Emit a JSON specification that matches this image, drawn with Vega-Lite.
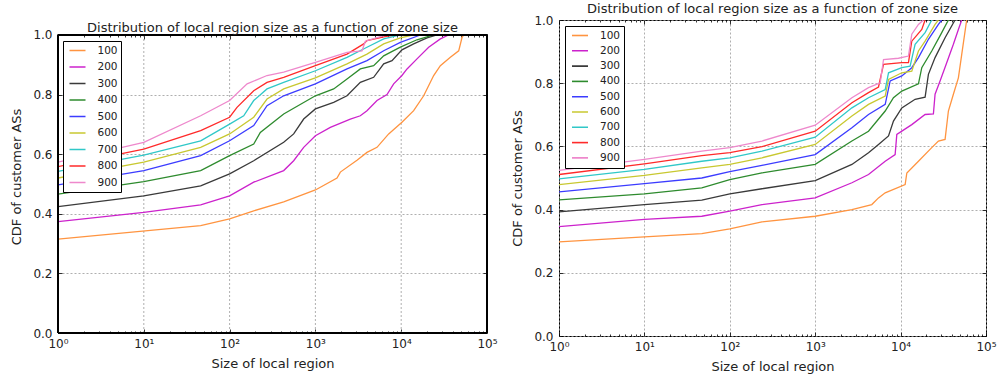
{
  "$schema": "https://vega.github.io/schema/vega-lite/v6.json",
  "padding": {"left": 10, "top": 2, "right": 5, "bottom": 0},
  "spacing": 13,
  "config": {
    "font": "DejaVu Sans",
    "view": {"stroke": "black", "strokeWidth": 1},
    "axis": {"labelFont": "DejaVu Sans", "labelFontSize": 12, "labelColor": "#222", "titleFont": "DejaVu Sans", "titleFontSize": 13, "titleFontWeight": "normal", "titleColor": "#222", "gridColor": "#9a9a9a", "gridDash": [2, 2], "gridOpacity": 1, "gridWidth": 0.8, "tickColor": "black", "tickWidth": 0.8},
    "title": {"font": "DejaVu Sans", "fontSize": 13, "fontWeight": "normal", "color": "#222", "offset": 0},
    "legend": {"labelFont": "DejaVu Sans", "labelFontSize": 10.5, "labelColor": "#222", "strokeColor": "black", "fillColor": "white", "symbolType": "stroke", "symbolStrokeWidth": 1.6, "symbolSize": 256, "labelOffset": 11, "symbolOffset": 3, "cornerRadius": 0}
  },
  "datasets": {
    "L": [
      {"z":"100","x":1,"y":0.315},{"z":"100","x":46,"y":0.36},{"z":"100","x":100,"y":0.383},{"z":"100","x":191,"y":0.41},{"z":"100","x":427,"y":0.44},{"z":"100","x":1000,"y":0.48},{"z":"100","x":1786,"y":0.52},{"z":"100","x":1953,"y":0.54},{"z":"100","x":3053,"y":0.58},{"z":"100","x":3991,"y":0.606},{"z":"100","x":5224,"y":0.623},{"z":"100","x":7145,"y":0.668},{"z":"100","x":10200,"y":0.707},{"z":"100","x":13970,"y":0.746},{"z":"100","x":18280,"y":0.796},{"z":"100","x":23900,"y":0.864},{"z":"100","x":28600,"y":0.897},{"z":"100","x":37400,"y":0.925},{"z":"100","x":46800,"y":0.947},{"z":"100","x":51200,"y":0.992},{"z":"100","x":53500,"y":1.0},
      {"z":"200","x":1,"y":0.374},{"z":"200","x":10,"y":0.405},{"z":"200","x":46,"y":0.43},{"z":"200","x":100,"y":0.46},{"z":"200","x":191,"y":0.506},{"z":"200","x":427,"y":0.545},{"z":"200","x":558,"y":0.578},{"z":"200","x":730,"y":0.623},{"z":"200","x":1000,"y":0.662},{"z":"200","x":1493,"y":0.69},{"z":"200","x":2553,"y":0.718},{"z":"200","x":3340,"y":0.729},{"z":"200","x":3991,"y":0.746},{"z":"200","x":5224,"y":0.78},{"z":"200","x":6834,"y":0.8},{"z":"200","x":8170,"y":0.836},{"z":"200","x":10200,"y":0.864},{"z":"200","x":11700,"y":0.886},{"z":"200","x":15280,"y":0.92},{"z":"200","x":20900,"y":0.959},{"z":"200","x":28600,"y":0.987},{"z":"200","x":35700,"y":1.0},
      {"z":"300","x":1,"y":0.424},{"z":"300","x":10,"y":0.46},{"z":"300","x":46,"y":0.494},{"z":"300","x":100,"y":0.534},{"z":"300","x":191,"y":0.578},{"z":"300","x":427,"y":0.64},{"z":"300","x":558,"y":0.668},{"z":"300","x":730,"y":0.718},{"z":"300","x":1000,"y":0.752},{"z":"300","x":1633,"y":0.774},{"z":"300","x":2336,"y":0.796},{"z":"300","x":3340,"y":0.841},{"z":"300","x":4775,"y":0.858},{"z":"300","x":6250,"y":0.903},{"z":"300","x":7815,"y":0.914},{"z":"300","x":10200,"y":0.95},{"z":"300","x":13970,"y":0.97},{"z":"300","x":20000,"y":0.99},{"z":"300","x":26100,"y":1.0},
      {"z":"400","x":1,"y":0.466},{"z":"400","x":10,"y":0.508},{"z":"400","x":46,"y":0.545},{"z":"400","x":100,"y":0.595},{"z":"400","x":191,"y":0.634},{"z":"400","x":228,"y":0.673},{"z":"400","x":427,"y":0.735},{"z":"400","x":1000,"y":0.796},{"z":"400","x":1633,"y":0.819},{"z":"400","x":2336,"y":0.852},{"z":"400","x":3340,"y":0.886},{"z":"400","x":4775,"y":0.897},{"z":"400","x":6250,"y":0.93},{"z":"400","x":9772,"y":0.959},{"z":"400","x":15280,"y":0.984},{"z":"400","x":23900,"y":1.0},
      {"z":"500","x":1,"y":0.497},{"z":"500","x":10,"y":0.545},{"z":"500","x":46,"y":0.595},{"z":"500","x":100,"y":0.645},{"z":"500","x":191,"y":0.696},{"z":"500","x":273,"y":0.763},{"z":"500","x":427,"y":0.796},{"z":"500","x":1000,"y":0.836},{"z":"500","x":2336,"y":0.886},{"z":"500","x":3991,"y":0.914},{"z":"500","x":6250,"y":0.947},{"z":"500","x":9772,"y":0.975},{"z":"500","x":16700,"y":1.0},
      {"z":"600","x":1,"y":0.52},{"z":"600","x":10,"y":0.573},{"z":"600","x":46,"y":0.623},{"z":"600","x":100,"y":0.668},{"z":"600","x":191,"y":0.724},{"z":"600","x":273,"y":0.785},{"z":"600","x":427,"y":0.819},{"z":"600","x":1000,"y":0.856},{"z":"600","x":2336,"y":0.903},{"z":"600","x":3991,"y":0.936},{"z":"600","x":6250,"y":0.97},{"z":"600","x":9772,"y":0.99},{"z":"600","x":13970,"y":1.0},
      {"z":"700","x":1,"y":0.542},{"z":"700","x":10,"y":0.597},{"z":"700","x":46,"y":0.645},{"z":"700","x":100,"y":0.701},{"z":"700","x":146,"y":0.729},{"z":"700","x":191,"y":0.78},{"z":"700","x":273,"y":0.819},{"z":"700","x":427,"y":0.841},{"z":"700","x":1000,"y":0.88},{"z":"700","x":2336,"y":0.925},{"z":"700","x":3991,"y":0.959},{"z":"700","x":6250,"y":0.987},{"z":"700","x":9772,"y":1.0},
      {"z":"800","x":1,"y":0.558},{"z":"800","x":10,"y":0.617},{"z":"800","x":46,"y":0.679},{"z":"800","x":100,"y":0.724},{"z":"800","x":122,"y":0.757},{"z":"800","x":191,"y":0.813},{"z":"800","x":273,"y":0.841},{"z":"800","x":427,"y":0.858},{"z":"800","x":1000,"y":0.897},{"z":"800","x":2336,"y":0.936},{"z":"800","x":3655,"y":0.97},{"z":"800","x":3991,"y":0.981},{"z":"800","x":6250,"y":0.994},{"z":"800","x":8170,"y":1.0},
      {"z":"900","x":1,"y":0.573},{"z":"900","x":10,"y":0.64},{"z":"900","x":46,"y":0.729},{"z":"900","x":100,"y":0.78},{"z":"900","x":160,"y":0.836},{"z":"900","x":273,"y":0.864},{"z":"900","x":427,"y":0.875},{"z":"900","x":1000,"y":0.908},{"z":"900","x":2336,"y":0.942},{"z":"900","x":3493,"y":0.947},{"z":"900","x":3820,"y":0.979},{"z":"900","x":6250,"y":0.998},{"z":"900","x":7470,"y":1.0}
    ],
    "R": [
      {"z":"100","x":1,"y":0.298},{"z":"100","x":10,"y":0.314},{"z":"100","x":47,"y":0.324},{"z":"100","x":100,"y":0.339},{"z":"100","x":238,"y":0.361},{"z":"100","x":1000,"y":0.379},{"z":"100","x":2690,"y":0.4},{"z":"100","x":4600,"y":0.416},{"z":"100","x":5510,"y":0.437},{"z":"100","x":6600,"y":0.453},{"z":"100","x":11300,"y":0.479},{"z":"100","x":11830,"y":0.516},{"z":"100","x":16180,"y":0.553},{"z":"100","x":23160,"y":0.596},{"z":"100","x":27720,"y":0.617},{"z":"100","x":33170,"y":0.622},{"z":"100","x":36280,"y":0.712},{"z":"100","x":41500,"y":0.765},{"z":"100","x":47500,"y":0.817},{"z":"100","x":51990,"y":0.891},{"z":"100","x":59400,"y":1.0},
      {"z":"200","x":1,"y":0.346},{"z":"200","x":10,"y":0.369},{"z":"200","x":47,"y":0.379},{"z":"200","x":100,"y":0.395},{"z":"200","x":238,"y":0.416},{"z":"200","x":1000,"y":0.437},{"z":"200","x":2690,"y":0.485},{"z":"200","x":4210,"y":0.511},{"z":"200","x":6600,"y":0.553},{"z":"200","x":8630,"y":0.574},{"z":"200","x":9030,"y":0.638},{"z":"200","x":13520,"y":0.669},{"z":"200","x":19360,"y":0.701},{"z":"200","x":24220,"y":0.703},{"z":"200","x":25330,"y":0.765},{"z":"200","x":28980,"y":0.807},{"z":"200","x":34680,"y":0.865},{"z":"200","x":41500,"y":0.923},{"z":"200","x":47500,"y":0.97},{"z":"200","x":51990,"y":1.0},
      {"z":"300","x":1,"y":0.393},{"z":"300","x":10,"y":0.416},{"z":"300","x":47,"y":0.43},{"z":"300","x":100,"y":0.45},{"z":"300","x":238,"y":0.466},{"z":"300","x":1000,"y":0.492},{"z":"300","x":2690,"y":0.543},{"z":"300","x":4210,"y":0.58},{"z":"300","x":5510,"y":0.606},{"z":"300","x":7220,"y":0.633},{"z":"300","x":8250,"y":0.68},{"z":"300","x":10330,"y":0.722},{"z":"300","x":14790,"y":0.749},{"z":"300","x":19360,"y":0.756},{"z":"300","x":21170,"y":0.828},{"z":"300","x":25330,"y":0.881},{"z":"300","x":33170,"y":0.944},{"z":"300","x":43400,"y":1.0},
      {"z":"400","x":1,"y":0.431},{"z":"400","x":10,"y":0.45},{"z":"400","x":47,"y":0.469},{"z":"400","x":100,"y":0.495},{"z":"400","x":238,"y":0.516},{"z":"400","x":1000,"y":0.543},{"z":"400","x":2690,"y":0.617},{"z":"400","x":4210,"y":0.648},{"z":"400","x":6600,"y":0.712},{"z":"400","x":8250,"y":0.754},{"z":"400","x":10330,"y":0.775},{"z":"400","x":16180,"y":0.798},{"z":"400","x":17700,"y":0.849},{"z":"400","x":23160,"y":0.902},{"z":"400","x":30320,"y":0.96},{"z":"400","x":36280,"y":1.0},
      {"z":"500","x":1,"y":0.456},{"z":"500","x":10,"y":0.482},{"z":"500","x":47,"y":0.5},{"z":"500","x":100,"y":0.52},{"z":"500","x":238,"y":0.54},{"z":"500","x":1000,"y":0.574},{"z":"500","x":2690,"y":0.659},{"z":"500","x":4210,"y":0.701},{"z":"500","x":6600,"y":0.733},{"z":"500","x":7550,"y":0.807},{"z":"500","x":10330,"y":0.823},{"z":"500","x":13520,"y":0.849},{"z":"500","x":16180,"y":0.881},{"z":"500","x":21170,"y":0.939},{"z":"500","x":27720,"y":0.986},{"z":"500","x":30320,"y":1.0},
      {"z":"600","x":1,"y":0.479},{"z":"600","x":10,"y":0.508},{"z":"600","x":47,"y":0.532},{"z":"600","x":100,"y":0.543},{"z":"600","x":238,"y":0.564},{"z":"600","x":1000,"y":0.606},{"z":"600","x":2690,"y":0.696},{"z":"600","x":4210,"y":0.733},{"z":"600","x":6600,"y":0.759},{"z":"600","x":7220,"y":0.812},{"z":"600","x":10330,"y":0.833},{"z":"600","x":13520,"y":0.838},{"z":"600","x":16180,"y":0.902},{"z":"600","x":19360,"y":0.933},{"z":"600","x":25330,"y":0.986},{"z":"600","x":27720,"y":1.0},
      {"z":"700","x":1,"y":0.497},{"z":"700","x":10,"y":0.527},{"z":"700","x":47,"y":0.553},{"z":"700","x":100,"y":0.564},{"z":"700","x":238,"y":0.585},{"z":"700","x":1000,"y":0.629},{"z":"700","x":2690,"y":0.722},{"z":"700","x":4210,"y":0.754},{"z":"700","x":6600,"y":0.78},{"z":"700","x":7220,"y":0.833},{"z":"700","x":10330,"y":0.849},{"z":"700","x":12920,"y":0.854},{"z":"700","x":14790,"y":0.923},{"z":"700","x":19360,"y":0.96},{"z":"700","x":23160,"y":1.0},
      {"z":"800","x":1,"y":0.511},{"z":"800","x":10,"y":0.545},{"z":"800","x":47,"y":0.571},{"z":"800","x":100,"y":0.58},{"z":"800","x":238,"y":0.599},{"z":"800","x":1000,"y":0.648},{"z":"800","x":2690,"y":0.738},{"z":"800","x":4210,"y":0.77},{"z":"800","x":5510,"y":0.788},{"z":"800","x":6310,"y":0.86},{"z":"800","x":10330,"y":0.865},{"z":"800","x":12360,"y":0.865},{"z":"800","x":13520,"y":0.933},{"z":"800","x":17700,"y":0.97},{"z":"800","x":19360,"y":1.0},
      {"z":"900","x":1,"y":0.524},{"z":"900","x":10,"y":0.559},{"z":"900","x":47,"y":0.585},{"z":"900","x":100,"y":0.596},{"z":"900","x":238,"y":0.617},{"z":"900","x":1000,"y":0.667},{"z":"900","x":2690,"y":0.754},{"z":"900","x":4210,"y":0.786},{"z":"900","x":5770,"y":0.801},{"z":"900","x":6310,"y":0.875},{"z":"900","x":9440,"y":0.879},{"z":"900","x":12360,"y":0.886},{"z":"900","x":13520,"y":0.955},{"z":"900","x":16180,"y":0.986},{"z":"900","x":18500,"y":1.0}
    ]
  },
  "hconcat": [
    {
      "width": 429, "height": 313,
      "view": {"stroke": null},
      "data": {"name": "L"},
      "title": {"text": "Distribution of local region size as a function of zone size", "dy": 19},
      "layer": [
        {"data": {"values": [{"g": 10}, {"g": 100}, {"g": 1000}, {"g": 10000}]},
         "mark": {"type": "rule", "color": "#9a9a9a", "strokeWidth": 0.8, "strokeDash": [2, 2]},
         "encoding": {
           "x": {"field": "g", "type": "quantitative", "scale": {"type": "log", "domain": [1, 100000]}, "axis": null},
           "y": {"datum": 0, "type": "quantitative", "scale": {"domain": [0, 1.0503], "nice": false}, "axis": null},
           "y2": {"datum": 1}
         }},
        {"mark": {"type": "line", "strokeWidth": 1.3, "clip": true},
         "encoding": {
           "x": {"field": "x", "type": "quantitative", "scale": {"type": "log", "domain": [1, 100000]}, "axis": {"title": "Size of local region", "values": [1, 10, 100, 1000, 10000, 100000], "labelExpr": "'10' + ['⁰','¹','²','³','⁴','⁵'][round(log(datum.value)/LN10)]", "ticks": false, "domain": false, "grid": false, "labelPadding": 5, "titlePadding": 8, "labelFlush": false}},
           "y": {"field": "y", "type": "quantitative", "scale": {"domain": [0, 1.0503], "nice": false}, "axis": {"title": "CDF of customer ASs", "values": [0, 0.2, 0.4, 0.6, 0.8, 1.0], "format": ".1f", "ticks": false, "domain": false, "grid": true, "labelPadding": 6, "titlePadding": 9, "labelFlush": false}},
           "color": {"field": "z", "type": "nominal", "title": null,
             "scale": {"domain": ["100","200","300","400","500","600","700","800","900"], "range": ["#ff9440","#cc22cc","#3a3a3a","#2e8b2e","#3c3cff","#c8c830","#30c8c8","#ff2a2a","#ee88cc"]},
             "legend": {"orient": "none", "legendX": 5, "legendY": 21, "padding": 2.5, "clipHeight": 14, "rowPadding": 2.5}}
         }},
        {"mark": {"type": "rule", "color": "black", "strokeWidth": 1},
         "encoding": {"y": {"datum": 1, "type": "quantitative", "scale": {"domain": [0, 1.0503], "nice": false}, "axis": null}}},
        {"mark": {"type": "rule", "color": "black", "strokeWidth": 1},
         "encoding": {"y": {"datum": 0, "type": "quantitative", "scale": {"domain": [0, 1.0503], "nice": false}, "axis": null}}},
        {"mark": {"type": "rule", "color": "black", "strokeWidth": 1},
         "encoding": {
           "x": {"datum": 1, "type": "quantitative", "scale": {"type": "log", "domain": [1, 100000]}, "axis": null},
           "y": {"datum": 0, "type": "quantitative", "scale": {"domain": [0, 1.0503], "nice": false}, "axis": null},
           "y2": {"datum": 1}}},
        {"mark": {"type": "rule", "color": "black", "strokeWidth": 1},
         "encoding": {
           "x": {"datum": 100000, "type": "quantitative", "scale": {"type": "log", "domain": [1, 100000]}, "axis": null},
           "y": {"datum": 0, "type": "quantitative", "scale": {"domain": [0, 1.0503], "nice": false}, "axis": null},
           "y2": {"datum": 1}}},
        {"mark": {"type": "line", "opacity": 0},
         "encoding": {
           "x": {"field": "x", "type": "quantitative", "scale": {"type": "log", "domain": [1, 100000]}, "axis": {"orient": "bottom", "values": [1, 10, 100, 1000, 10000, 100000], "tickSize": -4, "labels": false, "grid": false, "domain": false, "title": null}},
           "y": {"field": "y", "type": "quantitative", "scale": {"domain": [0, 1.0503], "nice": false}, "axis": {"orient": "left", "values": [0, 0.2, 0.4, 0.6, 0.8, 1.0], "tickSize": -4, "labels": false, "grid": false, "domain": false, "title": null}}
         }},
        {"mark": {"type": "line", "opacity": 0},
         "encoding": {
           "x": {"field": "x", "type": "quantitative", "scale": {"type": "log", "domain": [1, 100000]}, "axis": {"orient": "top", "offset": -15, "values": [1, 10, 100, 1000, 10000, 100000], "tickSize": -4, "labels": false, "grid": false, "domain": false, "title": null}},
           "y": {"field": "y", "type": "quantitative", "scale": {"domain": [0, 1.0503], "nice": false}, "axis": {"orient": "right", "values": [0, 0.2, 0.4, 0.6, 0.8, 1.0], "tickSize": -4, "labels": false, "grid": false, "domain": false, "title": null}}
         }},
        {"mark": {"type": "line", "opacity": 0},
         "encoding": {
           "x": {"field": "x", "type": "quantitative", "scale": {"type": "log", "domain": [1, 100000]}, "axis": {"orient": "bottom", "values": [2,3,4,5,6,7,8,9,20,30,40,50,60,70,80,90,200,300,400,500,600,700,800,900,2000,3000,4000,5000,6000,7000,8000,9000,20000,30000,40000,50000,60000,70000,80000,90000], "tickSize": -2, "labels": false, "grid": false, "domain": false, "title": null}},
           "y": {"field": "y", "type": "quantitative", "scale": {"domain": [0, 1.0503], "nice": false}, "axis": null}
         }},
        {"mark": {"type": "line", "opacity": 0},
         "encoding": {
           "x": {"field": "x", "type": "quantitative", "scale": {"type": "log", "domain": [1, 100000]}, "axis": {"orient": "top", "offset": -15, "values": [2,3,4,5,6,7,8,9,20,30,40,50,60,70,80,90,200,300,400,500,600,700,800,900,2000,3000,4000,5000,6000,7000,8000,9000,20000,30000,40000,50000,60000,70000,80000,90000], "tickSize": -2, "labels": false, "grid": false, "domain": false, "title": null}},
           "y": {"field": "y", "type": "quantitative", "scale": {"domain": [0, 1.0503], "nice": false}, "axis": null}
         }}
      ],
      "resolve": {"axis": {"x": "independent", "y": "independent"}}
    },
    {
      "width": 427, "height": 316,
      "data": {"name": "R"},
      "title": {"text": "Distribution of local region size as a function of zone size", "dy": 6},
      "layer": [
        {"mark": {"type": "line", "strokeWidth": 1.3, "clip": true},
         "encoding": {
           "x": {"field": "x", "type": "quantitative", "scale": {"type": "log", "domain": [1, 100000]}, "axis": {"title": "Size of local region", "values": [1, 10, 100, 1000, 10000, 100000], "labelExpr": "'10' + ['⁰','¹','²','³','⁴','⁵'][round(log(datum.value)/LN10)]", "ticks": false, "domain": false, "grid": true, "labelPadding": 5, "titlePadding": 8, "labelFlush": false}},
           "y": {"field": "y", "type": "quantitative", "scale": {"domain": [0, 1]}, "axis": {"title": "CDF of customer ASs", "values": [0, 0.2, 0.4, 0.6, 0.8, 1.0], "format": ".1f", "ticks": false, "domain": false, "grid": true, "labelPadding": 6, "titlePadding": 9, "labelFlush": false}},
           "color": {"field": "z", "type": "nominal", "title": null,
             "scale": {"domain": ["100","200","300","400","500","600","700","800","900"], "range": ["#ff9440","#cc22cc","#3a3a3a","#2e8b2e","#3c3cff","#c8c830","#30c8c8","#ff2a2a","#ee88cc"]},
             "legend": {"orient": "top-left", "offset": 6, "padding": 3, "clipHeight": 13, "rowPadding": 2.3}}
         }},
        {"mark": {"type": "line", "opacity": 0},
         "encoding": {
           "x": {"field": "x", "type": "quantitative", "scale": {"type": "log", "domain": [1, 100000]}, "axis": {"orient": "bottom", "values": [1, 10, 100, 1000, 10000, 100000], "tickSize": -4, "labels": false, "grid": false, "domain": false, "title": null}},
           "y": {"field": "y", "type": "quantitative", "scale": {"domain": [0, 1]}, "axis": {"orient": "left", "values": [0, 0.2, 0.4, 0.6, 0.8, 1.0], "tickSize": -4, "labels": false, "grid": false, "domain": false, "title": null}}
         }},
        {"mark": {"type": "line", "opacity": 0},
         "encoding": {
           "x": {"field": "x", "type": "quantitative", "scale": {"type": "log", "domain": [1, 100000]}, "axis": {"orient": "top", "values": [1, 10, 100, 1000, 10000, 100000], "tickSize": -4, "labels": false, "grid": false, "domain": false, "title": null}},
           "y": {"field": "y", "type": "quantitative", "scale": {"domain": [0, 1]}, "axis": {"orient": "right", "values": [0, 0.2, 0.4, 0.6, 0.8, 1.0], "tickSize": -4, "labels": false, "grid": false, "domain": false, "title": null}}
         }},
        {"mark": {"type": "line", "opacity": 0},
         "encoding": {
           "x": {"field": "x", "type": "quantitative", "scale": {"type": "log", "domain": [1, 100000]}, "axis": {"orient": "bottom", "values": [2,3,4,5,6,7,8,9,20,30,40,50,60,70,80,90,200,300,400,500,600,700,800,900,2000,3000,4000,5000,6000,7000,8000,9000,20000,30000,40000,50000,60000,70000,80000,90000], "tickSize": -2, "labels": false, "grid": false, "domain": false, "title": null}},
           "y": {"field": "y", "type": "quantitative", "scale": {"domain": [0, 1]}, "axis": null}
         }},
        {"mark": {"type": "line", "opacity": 0},
         "encoding": {
           "x": {"field": "x", "type": "quantitative", "scale": {"type": "log", "domain": [1, 100000]}, "axis": {"orient": "top", "values": [2,3,4,5,6,7,8,9,20,30,40,50,60,70,80,90,200,300,400,500,600,700,800,900,2000,3000,4000,5000,6000,7000,8000,9000,20000,30000,40000,50000,60000,70000,80000,90000], "tickSize": -2, "labels": false, "grid": false, "domain": false, "title": null}},
           "y": {"field": "y", "type": "quantitative", "scale": {"domain": [0, 1]}, "axis": null}
         }}
      ],
      "resolve": {"axis": {"x": "independent", "y": "independent"}}
    }
  ],
  "resolve": {"legend": {"color": "independent"}}
}
